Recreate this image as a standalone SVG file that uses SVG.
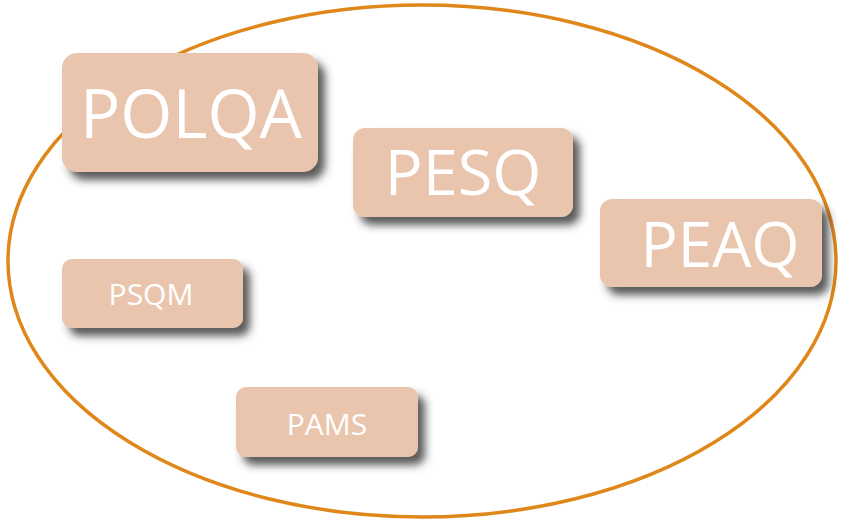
<svg xmlns="http://www.w3.org/2000/svg" width="862" height="529" viewBox="0 0 862 529">
<defs>
<filter id="sh" x="-10%" y="-10%" width="130%" height="145%">
<feDropShadow dx="7" dy="8" stdDeviation="4.5" flood-color="#333333" flood-opacity="0.8"/>
</filter>
</defs>
<style>
.box{fill:#EAC5AD;filter:url(#sh)}
.t{fill:#ffffff;font-family:"Open Sans","Noto Sans",sans-serif;text-anchor:middle}
</style>
<rect width="862" height="529" fill="#ffffff"/>
<ellipse cx="422" cy="261" rx="414" ry="256" fill="none" stroke="#E0871A" stroke-width="3.5"/>
<g id="polqa"><rect class="box" x="62" y="53" width="256" height="119" rx="15"/><text class="t" x="191" y="138" font-size="67">POLQA</text></g>
<g id="pesq"><rect class="box" x="353" y="128" width="220" height="89" rx="12"/><text class="t" x="463" y="195" font-size="63">PESQ</text></g>
<g id="peaq"><rect class="box" x="600" y="199" width="222" height="88" rx="12"/><text class="t" x="720" y="267" font-size="62">PEAQ</text></g>
<g id="psqm"><rect class="box" x="62" y="259" width="181" height="69" rx="10"/><text class="t" x="151" y="305" font-size="30">PSQM</text></g>
<g id="pams"><rect class="box" x="236" y="387" width="182" height="70" rx="10"/><text class="t" x="327" y="435" font-size="30">PAMS</text></g>
<g id="connectors"/>
</svg>
